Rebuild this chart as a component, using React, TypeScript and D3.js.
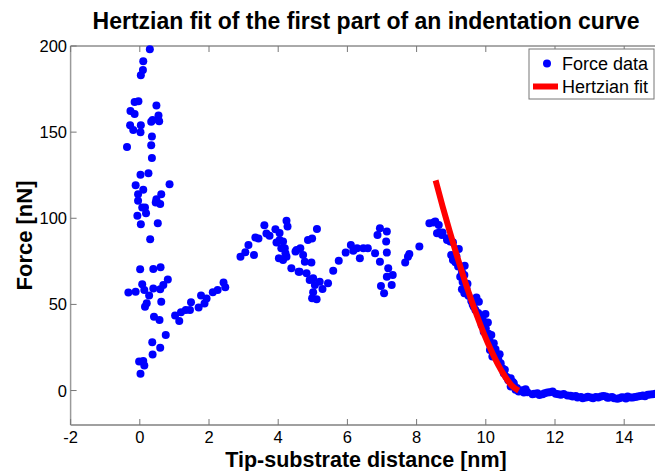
import React from "react";
import * as d3 from "d3";

const TITLE = "Hertzian fit of the first part of an indentation curve";
const X_LABEL = "Tip-substrate distance [nm]";
const Y_LABEL = "Force [nN]";
const X_TICKS = [-2, 0, 2, 4, 6, 8, 10, 12, 14];
const Y_TICKS = [0, 50, 100, 150, 200];
const LEGEND_LABELS = ["Force data", "Hertzian fit"];

const forceX = [
  0.29, 0.10, 0.09, 0.03, -0.15, -0.04, 0.48, -0.27, -0.15, 0.54, 0.37, 0.56, 0.33, -0.28, 0.03, -0.19, 0.02, -0.37, 0.35, 0.33,
  0.35, 0.25, 0.02, 0.86, -0.12, 0.10, 0.62, -0.05, 0.48, -0.05, 0.59, 0.46, 0.07, 0.15, 0.18, -0.07, 0.52, 0.03, 0.30, 0.01,
  0.39, 0.60, 0.81, 0.07, 0.68, -0.33, -0.12, 0.13, 0.39, 0.59, 0.27, 0.20, 0.15, 0.62, 0.41, 0.57, 0.75, 0.36, 0.59, 0.37,
  -0.02, 0.10, 0.13, 0.02,
  1.02, 1.14, 1.19, 1.33, 1.48, 1.45, 1.70, 1.77, 1.87, 1.93, 2.11, 2.25, 2.42, 2.47,
  2.91, 3.05, 3.14, 3.30, 3.34, 3.43, 3.60, 3.66, 3.75, 3.92, 3.95, 4.04, 4.09, 4.02, 4.14, 4.24, 4.27, 4.21, 4.38, 4.53,
  4.59, 4.04, 4.14, 4.19, 4.24, 4.50, 4.64, 4.72, 4.77, 4.62, 4.82, 4.96, 4.86, 4.98, 5.12, 4.91, 5.01, 5.06, 5.20, 5.28,
  5.44, 4.98, 5.11, 5.01, 5.59, 5.75, 5.95, 6.10, 6.17, 6.36, 6.28, 6.46, 6.59, 6.80, 6.87, 6.94, 7.14, 7.12, 7.14, 6.94,
  7.18, 7.14, 7.31, 7.28, 6.97, 7.06, 7.67, 7.75, 7.79, 8.08, 8.37, 8.49, 8.54, 8.64, 8.59, 8.66, 8.73, 8.75, 8.88, 8.88,
  8.97, 9.05, 9.22, 9.00, 9.05, 9.12, 9.39, 9.31, 9.38, 9.31, 9.44, 9.38, 9.73, 9.80, 9.65, 9.70, 9.99, 10.06, 9.92, 9.94,
  10.16, 10.23, 10.12, 10.19, 10.31, 10.43, 10.48, 10.52, 10.72, 10.81, 10.72, 10.86,
  9.15, 9.20, 9.26, 9.33, 9.47, 9.50, 9.58, 9.62, 9.78, 9.85, 9.88, 10.00, 10.08, 10.10, 10.28, 10.36, 10.40, 10.55, 10.60, 10.65,
  10.78, 10.90, 10.95, 11.05, 11.10,
  11.15, 11.20, 11.35, 11.40, 11.49, 11.55, 11.64, 11.70, 11.78, 11.85, 11.93, 12.02, 12.10, 12.17, 12.25, 12.36, 12.45, 12.51, 12.60, 12.65,
  12.75, 12.80, 12.89, 12.95, 13.04, 13.10, 13.18, 13.25, 13.33, 13.40, 13.47, 13.52, 13.57, 13.65, 13.71, 13.80, 13.86, 13.93, 14.00, 14.05,
  14.10, 14.18, 14.25, 14.32, 14.39, 14.47, 14.54, 14.60, 14.68, 14.75, 14.83, 14.90, 14.95, 15.00,
];

const forceY = [
  198.1, 191.1, 186.1, 183.0, 167.5, 167.9, 165.4, 162.3, 160.5, 159.6, 157.1, 156.3, 156.1, 154.0, 154.0, 151.3, 149.9, 141.4, 147.4, 142.4,
  135.0, 126.1, 125.2, 119.8, 119.2, 116.6, 114.0, 114.0, 111.1, 110.1, 108.3, 109.1, 106.2, 106.2, 102.9, 101.5, 97.1, 96.5, 87.8, 70.4,
  70.6, 71.6, 64.4, 61.7, 61.2, 56.9, 57.3, 58.4, 59.2, 58.8, 55.1, 50.7, 48.7, 51.6, 42.8, 41.0, 32.3, 28.1, 24.9, 20.9,
  16.8, 17.2, 14.5, 9.7,
  43.5, 40.4, 45.5, 46.8, 51.3, 46.8, 48.2, 55.1, 50.5, 53.4, 57.1, 58.4, 62.7, 60.0,
  77.7, 80.3, 84.5, 78.7, 88.8, 88.2, 96.0, 91.1, 89.8, 93.6, 85.9, 87.4, 82.6, 76.8, 75.8, 98.6, 95.2, 79.7, 71.0, 81.6,
  69.0, 91.5, 86.5, 82.6, 77.7, 80.7, 82.6, 78.7, 74.8, 69.0, 68.1, 74.3, 87.4, 88.2, 93.8, 64.2, 65.2, 61.3, 63.2, 59.0,
  62.3, 53.6, 53.0, 57.1, 69.6, 75.4, 80.1, 84.5, 81.1, 76.8, 82.6, 82.6, 82.6, 79.7, 90.3, 94.2, 92.3, 86.5, 80.1, 74.8,
  71.0, 66.1, 67.1, 61.3, 60.7, 56.5, 74.3, 77.7, 79.3, 83.6, 97.1, 97.5, 98.1, 96.1, 91.3, 91.7, 90.3, 91.7, 88.4, 87.4,
  86.5, 86.1, 82.2, 78.7, 75.8, 74.5, 72.4, 69.0, 67.1, 58.8, 59.4, 56.5, 54.0, 51.6, 48.7, 46.8, 44.5, 39.5, 40.6, 34.2,
  32.3, 27.5, 23.6, 19.7, 20.7, 15.9, 13.0, 10.1, 7.2, 4.3, 2.3, 0.4,
  78.0, 72.0, 66.0, 63.0, 62.0, 55.0, 52.0, 50.0, 45.0, 43.0, 38.0, 36.0, 33.0, 29.0, 24.0, 18.0, 21.0, 12.0, 8.0, 6.0,
  5.0, 1.5, -0.5, 0.2, -1.2,
  0.8, -1.0, -2.1, -1.8, -1.5, -2.6, -2.1, -1.6, -1.2, -1.0, -0.6, -1.9, -2.2, -2.5, -2.0, -2.9, -3.0, -3.5, -3.2, -4.1,
  -3.8, -4.5, -4.1, -3.6, -4.1, -4.5, -3.8, -4.0, -3.5, -3.2, -3.5, -4.2, -4.1, -3.7, -4.4, -4.8, -4.4, -3.9, -4.1, -4.6,
  -3.5, -4.0, -4.1, -3.8, -3.5, -3.2, -2.9, -3.3, -2.5, -2.3, -2.1, -2.0, -1.5, -1.2,
];

const fitX = [8.55, 8.75, 8.95, 9.15, 9.35, 9.55, 9.75, 9.95, 10.15, 10.35, 10.55, 10.75, 10.95];
const fitY = [122, 107, 92.8, 79.2, 66.4, 54.3, 43.1, 32.8, 23.5, 15.2, 8.3, 2.9, 0];

const W = 655;
const H = 471;
const FONT = "'Liberation Sans', Arial, Helvetica, sans-serif";

export default function App() {
  const x = d3.scaleLinear().domain([-2, 15]).range([70.6, 658.8]);
  const y = d3.scaleLinear().domain([-20, 200]).range([425, 46]);
  const [x0, x1] = x.range();
  const [yB, yT] = y.range();

  const points = forceX.map((v, i) => ({ x: v, y: forceY[i] }));
  const fit = fitX.map((v, i) => [v, fitY[i]] as [number, number]);
  const fitPath = d3
    .line<[number, number]>()
    .x((d) => x(d[0]))
    .y((d) => y(d[1]))
    .curve(d3.curveMonotoneX)(fit);

  const tickLen = 6;
  const legX = 529;
  const legY = 49;

  return (
    <svg
      width={W}
      height={H}
      style={{ position: "absolute", left: 0, top: 0, background: "#fff" }}
      fontFamily={FONT}
    >
      <rect x={0} y={0} width={W} height={H} fill="#fff" />
      {/* axes box */}
      <line x1={x0} x2={x1 + 5} y1={yT} y2={yT} stroke="#555" strokeWidth={1} />
      <line x1={x0} x2={x1 + 5} y1={yB} y2={yB} stroke="#808080" strokeWidth={1.5} />
      <line x1={x0} x2={x0} y1={yT} y2={yB} stroke="#9a9a9a" strokeWidth={1.5} />

      {/* x ticks */}
      {X_TICKS.map((t) => (
        <g key={"xt" + t}>
          <line x1={x(t)} x2={x(t)} y1={yB} y2={yB - tickLen} stroke="#777" strokeWidth={1} />
          <line x1={x(t)} x2={x(t)} y1={yT} y2={yT + tickLen} stroke="#777" strokeWidth={1} />
          <text x={x(t)} y={443} textAnchor="middle" fontSize={16.5} fill="#000">
            {t}
          </text>
        </g>
      ))}
      {/* y ticks */}
      {Y_TICKS.map((t) => (
        <g key={"yt" + t}>
          <line x1={x0} x2={x0 + tickLen} y1={y(t)} y2={y(t)} stroke="#777" strokeWidth={1} />
          <text x={67} y={y(t) + 6} textAnchor="end" fontSize={16.5} fill="#000">
            {t}
          </text>
        </g>
      ))}

      {/* data */}
      <g fill="#0000ff">
        {points.map((p, i) => (
          <circle key={i} cx={x(p.x)} cy={y(p.y)} r={4} />
        ))}
      </g>
      <path d={fitPath || ""} fill="none" stroke="#ff0000" strokeWidth={6} />

      {/* title and labels */}
      <text x={366} y={28.5} textAnchor="middle" fontSize={23} fontWeight="bold" fill="#000">
        {TITLE}
      </text>
      <text x={366} y={467} textAnchor="middle" fontSize={21.5} fontWeight="bold" fill="#000">
        {X_LABEL}
      </text>
      <text
        transform={`translate(31.5, ${(yT + yB) / 2}) rotate(-90)`}
        textAnchor="middle"
        fontSize={22}
        fontWeight="bold"
        fill="#000"
      >
        {Y_LABEL}
      </text>

      {/* legend */}
      <rect x={legX} y={legY} width={125} height={50} fill="#fff" stroke="#777" strokeWidth={1} />
      <circle cx={547} cy={63.5} r={4} fill="#0000ff" />
      <line x1={533} x2={558} y1={86.5} y2={86.5} stroke="#ff0000" strokeWidth={6} />
      <text x={562} y={70} fontSize={18} fill="#000">
        {LEGEND_LABELS[0]}
      </text>
      <text x={562} y={93} fontSize={18} fill="#000">
        {LEGEND_LABELS[1]}
      </text>
    </svg>
  );
}
